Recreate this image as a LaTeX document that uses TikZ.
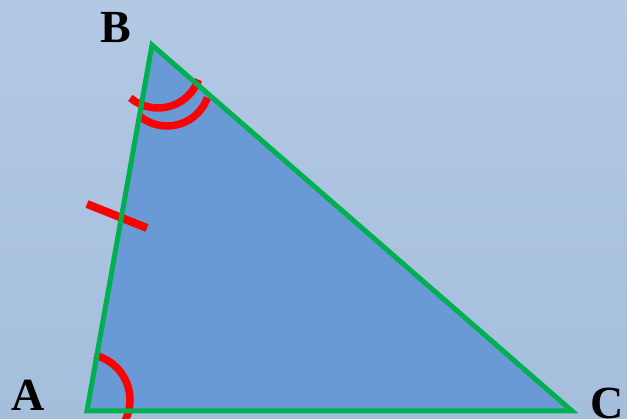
\documentclass[tikz,border=0pt]{standalone}
\usepackage{fontspec}
\setmainfont{Liberation Serif}
\begin{document}
\begin{tikzpicture}[x=1pt,y=-1pt,
  edge/.style={draw=triGreen,line width=5pt,line join=miter},
  redmark/.style={draw=red,line width=7.5pt},
  lab/.style={font=\fontsize{46}{46}\selectfont\bfseries,inner sep=0pt}]
\definecolor{triGreen}{RGB}{0,176,80}
\definecolor{triFill}{RGB}{106,154,214}
\definecolor{bgTop}{RGB}{178,201,228}
\definecolor{bgBot}{RGB}{164,190,220}
\useasboundingbox (0,0) rectangle (627,419);
\shade[top color=bgTop,bottom color=bgBot] (0,0) rectangle (627,419);
\coordinate (A) at (87,411);
\coordinate (B) at (152,45);
\coordinate (C) at (572,411);
\fill[triFill] (A) -- (B) -- (C) -- cycle;
\begin{scope}
\clip (0,0) rectangle (627,419);
\draw[redmark] (84,400) ++(-77:46) arc[start angle=-77,end angle=30,radius=46];
\end{scope}
\draw[redmark] (158,65) ++(130:43) arc[start angle=130,end angle=20,radius=43];
\draw[redmark] (167,83) ++(130:43) arc[start angle=130,end angle=20,radius=43];
\coordinate (t1) at (87,204);
\coordinate (t2) at (147,228);
\draw[draw=red,line width=8pt] (t1) -- (t2);
\draw[edge] (A) -- (B) -- (C) -- cycle;
\node[lab] (lA) at (28,395) {A};
\node[lab] (lB) at (116,28) {B};
\node[lab] (lC) at (607,403) {C};
\end{tikzpicture}
\end{document}
